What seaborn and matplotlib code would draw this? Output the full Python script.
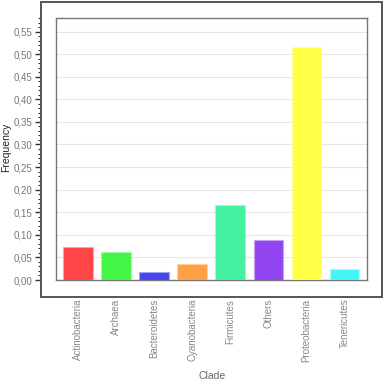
import numpy as np
import pandas as pd
import seaborn as sns
import matplotlib
matplotlib.use("Agg")
import matplotlib.pyplot as plt
from matplotlib.patches import Rectangle
from matplotlib.ticker import FuncFormatter, MultipleLocator, AutoMinorLocator
from matplotlib.colors import to_rgb

# data
clades = ["Actinobacteria", "Archaea", "Bacteroidetes", "Cyanobacteria",
          "Firmicutes", "Others", "Proteobacteria", "Tenericutes"]
freq = [0.073, 0.063, 0.018, 0.035, 0.167, 0.088, 0.516, 0.024]
colors = ["#ff4545", "#45f545", "#4545ee", "#ffa045",
          "#45f0a0", "#9045f0", "#ffff45", "#45f5f5"]

df = pd.DataFrame({"Clade": clades, "Frequency": freq})

sns.set_style("white")
plt.rcParams["font.family"] = ["Liberation Sans", "DejaVu Sans"]

W, H = 386, 381
fig = plt.figure(figsize=(W / 100, H / 100), dpi=100)

# outer frame
fig.patches.append(Rectangle((41 / W, 1 - 297 / H), (382 - 41) / W, (297 - 2) / H,
                             transform=fig.transFigure, fill=False,
                             edgecolor="#555555", linewidth=1.4, zorder=0))

ax = fig.add_axes([56 / W, 1 - 280 / H, (367 - 56) / W, (280 - 18) / H])
sns.barplot(data=df, x="Clade", y="Frequency", hue="Clade", palette=colors,
            saturation=1, legend=False, width=0.78, ax=ax, zorder=3)
for p, c in zip(ax.patches, colors):
    r, g, b = to_rgb(c)
    p.set_edgecolor((r + (1 - r) * 0.5, g + (1 - g) * 0.5, b + (1 - b) * 0.5))
    p.set_linewidth(0.8)

ax.set_ylim(0, 0.58)
ax.set_xlim(-0.58, 7.59)
ax.yaxis.set_major_locator(MultipleLocator(0.05))
ax.yaxis.set_minor_locator(AutoMinorLocator(5))
ax.yaxis.set_major_formatter(FuncFormatter(lambda v, _: f"{v:.2f}".replace(".", ",")))
ax.grid(axis="y", color="#e6e6e6", linewidth=0.8, zorder=0)
ax.set_axisbelow(True)

for s in ["top", "right", "bottom"]:
    ax.spines[s].set_color("#777777")
    ax.spines[s].set_linewidth(1.0)
ax.spines["left"].set_position(("outward", 10.8))
ax.spines["left"].set_visible(False)
ax.plot([0, 0], [0, 1], transform=ax.transAxes, color="#777777",
        linewidth=1.0, clip_on=False, zorder=5)

ax.tick_params(axis="y", which="major", direction="out", length=4, width=1,
               color="#333333", labelsize=7, labelcolor="#777777", pad=2, left=True)
ax.tick_params(axis="y", which="minor", direction="out", length=2, width=0.8,
               color="#333333", left=True)
ax.tick_params(axis="x", length=0, pad=13.5, labelsize=7, labelcolor="#888888")
plt.setp(ax.get_xticklabels(), rotation=90, va="top", ha="center")

ax.set_xlabel("")
ax.set_ylabel("")
fig.text(6 / W, 1 - 147 / H, "Frequency", rotation=90, ha="center", va="center",
         fontsize=7.5, color="#222222")
fig.text(212 / W, 1 - 376 / H, "Clade", ha="center", va="center",
         fontsize=7.5, color="#666666")

fig.savefig("out.png", dpi=100)
